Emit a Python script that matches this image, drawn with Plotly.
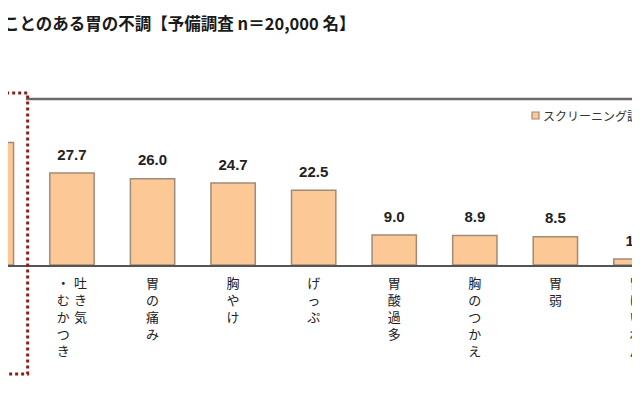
import plotly.graph_objects as go

# data
categories = ["胃もたれ", "吐き気・むかつき", "胃の痛み", "胸やけ", "げっぷ",
              "胃酸過多", "胸のつかえ", "胃弱", "胃けいれん"]
values = [36.9, 27.7, 26.0, 24.7, 22.5, 9.0, 8.9, 8.5, 1.8]
# vertical labels, columns listed right to left ("" = column cut off in the source)
label_columns = [["胃もたれ", ""], ["吐き気", "・むかつき"], ["胃の痛み"], ["胸やけ"],
                 ["げっぷ"], ["胃酸過多"], ["胸のつかえ"], ["胃弱"], ["胃けいれん"]]
series_name = "スクリーニング調査"
title_text = "経験したことのある胃の不調【予備調査 n＝20,000 名】"

bar_fill = "#FCC895"
bar_line = "#A08A78"
jp_font = "Noto Sans CJK JP"

W, H = 640, 400
PAGE = 8  # the html body adds 8px before the figure


def px(x):
    return (x - PAGE) / W


def py(y):
    return 1 - (y - PAGE) / H


positions = list(range(len(categories)))

fig = go.Figure()

fig.add_trace(go.Bar(
    x=positions, y=values, width=0.55, name=series_name,
    marker=dict(color=bar_fill, line=dict(color=bar_line, width=1.5)),
    hovertext=categories, showlegend=False,
))

# value labels above the bars (invisible marker pushes the text up)
fig.add_trace(go.Scatter(
    x=positions, y=values, mode="markers+text",
    text=[f"{v:.1f}" for v in values], textposition="top center",
    textfont=dict(family="Liberation Sans", size=15, color="#222222", weight="bold"),
    marker=dict(size=14, opacity=0), hoverinfo="skip", showlegend=False,
))

# vertical category labels under the axis
col_x, col_text = [], []
col_gap = 0.215
for i, cols in enumerate(label_columns):
    n = len(cols)
    for j, col in enumerate(cols):
        if not col:
            continue
        col_x.append(i + ((n - 1) / 2 - j) * col_gap)
        col_text.append("<br>".join(col))

fig.add_trace(go.Scatter(
    x=col_x, y=[0] * len(col_x), mode="markers+text",
    text=col_text, textposition="bottom center", cliponaxis=False,
    textfont=dict(family=jp_font, size=13, color="#222222"),
    marker=dict(size=20, opacity=0), hoverinfo="skip", showlegend=False,
))

# title (left part is cut off like the source crop)
fig.add_annotation(
    xref="paper", yref="paper", x=px(357), y=py(23),
    xanchor="right", yanchor="middle", showarrow=False,
    text="<b>" + title_text + "</b>",
    font=dict(family=jp_font, size=16.5, color="#1a1a1a"),
)

# legend made by hand
fig.add_shape(type="rect", xref="paper", yref="paper",
              x0=px(532), x1=px(539), y0=py(119), y1=py(112),
              fillcolor=bar_fill, line=dict(color=bar_line, width=1.2))
fig.add_annotation(
    xref="paper", yref="paper", x=px(541), y=py(115),
    xanchor="left", yanchor="middle", showarrow=False, text=series_name,
    font=dict(family=jp_font, size=12, color="#333333"),
)

# grey frame line at the top
fig.add_shape(type="line", xref="paper", yref="paper",
              x0=px(26), x1=1, y0=py(99), y1=py(99),
              line=dict(color="#6a6a6a", width=2.5))

# red dotted highlight box around the first item
fig.add_shape(type="rect", xref="x", yref="paper",
              x0=-0.45, x1=0.45, y0=py(374), y1=py(93),
              line=dict(color="#8B1C1C", width=3, dash="dot"))

slot = 80.57  # pixels per category
x_start = (PAGE + 8.6) / slot
baseline = 265 - PAGE

fig.update_layout(
    width=W, height=H,
    margin=dict(l=0, r=0, t=0, b=0),
    paper_bgcolor="white", plot_bgcolor="white",
    showlegend=False,
    xaxis=dict(range=[x_start, x_start + W / slot], autorange=False,
               showticklabels=False, ticks="",
               showgrid=False, zeroline=False,
               showline=True, linecolor="#555555", linewidth=2),
    yaxis=dict(domain=[1 - baseline / H, 1], range=[0, baseline / 3.32],
               autorange=False, visible=False,
               showgrid=False, zeroline=False),
)

fig.write_html("out.html")
